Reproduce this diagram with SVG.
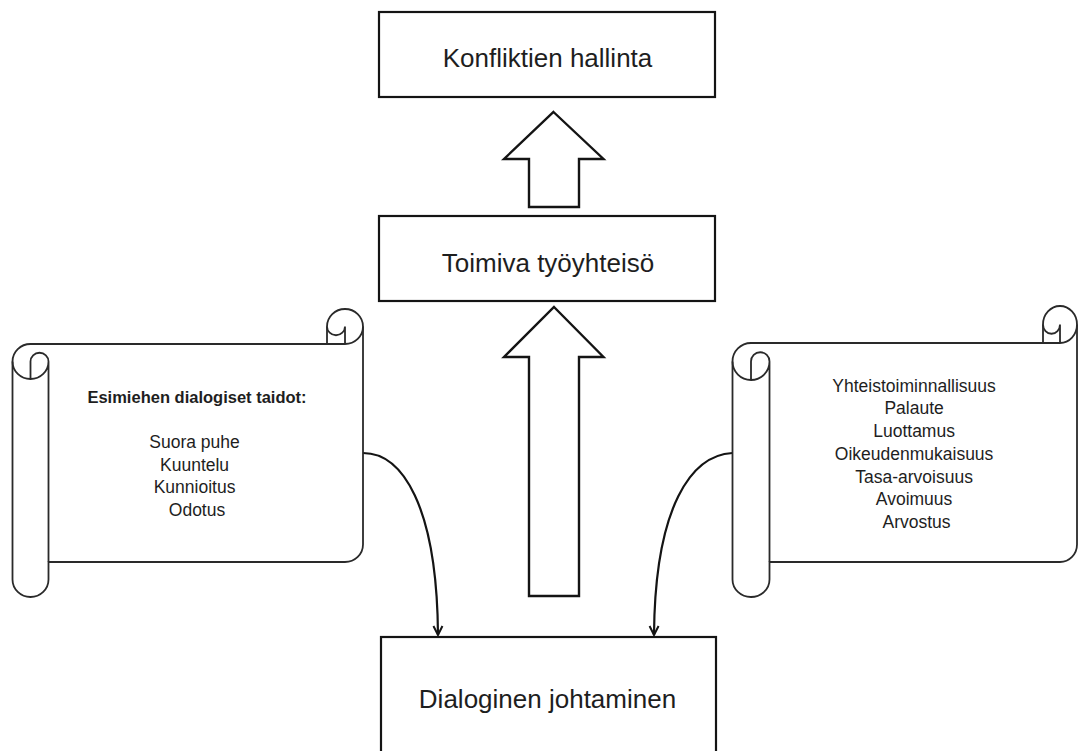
<svg xmlns="http://www.w3.org/2000/svg" width="1078" height="751" viewBox="0 0 1078 751">
  <style>
    .box { fill: #ffffff; stroke: #141414; stroke-width: 2.2; }
    .scroll { fill: #ffffff; stroke: #2a2a2a; stroke-width: 1.8; stroke-linejoin: round; }
    .detail { fill: none; stroke: #2a2a2a; stroke-width: 1.8; }
    .block { fill: #ffffff; stroke: #141414; stroke-width: 2.4; stroke-linejoin: miter; }
    .curve { fill: none; stroke: #141414; stroke-width: 2.2; }
    .big { font-family: "Liberation Sans", Arial, sans-serif; font-size: 26px; fill: #1e1e1e; text-anchor: middle; }
    .small { font-family: "Liberation Sans", Arial, sans-serif; font-size: 17.5px; fill: #1e1e1e; text-anchor: middle; }
    .bold { font-weight: bold; font-size: 16.5px; }
  </style>
  <defs>
    <marker id="open" viewBox="0 0 12 12" refX="10" refY="6" markerWidth="12" markerHeight="12" markerUnits="userSpaceOnUse" orient="auto">
      <path d="M 1 1.5 L 10 6 L 1 10.5" fill="none" stroke="#141414" stroke-width="2" stroke-linejoin="miter"/>
    </marker>
  </defs>
  <rect x="0" y="0" width="1078" height="751" fill="#ffffff"/>

  <g id="connectors">
    <path class="block" d="M 553.5 112 L 603.5 159 L 579 159 L 579 207 L 529 207 L 529 159 L 504 159 Z"/>
    <path class="block" d="M 554 307 L 603.5 357 L 579 357 L 579 596 L 529 596 L 529 357 L 504 357 Z"/>
    <path class="curve" d="M 363 453 C 402 453 437 505 438 635" marker-end="url(#open)"/>
    <path class="curve" d="M 732.5 453 C 692 455 655 505 654 635" marker-end="url(#open)"/>
  </g>

  <g id="node-konfliktien-hallinta">
    <rect class="box" x="379" y="12" width="336" height="85"/>
    <text class="big" x="547.5" y="66.5">Konfliktien hallinta</text>
  </g>

  <g id="node-toimiva-tyoyhteiso">
    <rect class="box" x="379" y="216" width="336" height="85"/>
    <text class="big" x="548" y="271.5">Toimiva työyhteisö</text>
  </g>

  <g id="node-dialoginen-johtaminen">
    <rect class="box" x="381" y="637" width="335" height="130"/>
    <text class="big" x="547.5" y="708">Dialoginen johtaminen</text>
  </g>

  <g id="node-esimiehen-taidot">
    <path class="scroll" d="M 12.5 361.5 A 18 17.5 0 0 1 30.5 344 L 327 344 L 327 326.5 A 18 17.5 0 0 1 363 326.5 L 363 544.5 A 18 17.5 0 0 1 345 562 L 48.5 562 L 48.5 579.5 A 18 17.5 0 0 1 12.5 579.5 Z"/>
    <path class="detail" d="M 327 344 L 345 344 A 18 17.5 0 0 0 363 326.5 M 345 344 L 345 326.5 A 9 8.75 0 0 1 327 326.5 M 30.5 379 L 30.5 361.5 A 9 8.75 0 0 1 48.5 361.5 A 18 17.5 0 0 1 12.5 361.5 M 48.5 361.5 L 48.5 562"/>
    <text class="small bold" x="197" y="403">Esimiehen dialogiset taidot:</text>
    <text class="small" x="197" y="448">
      <tspan x="197">Suora puhe</tspan>
      <tspan x="197" dy="22.7">Kuuntelu</tspan>
      <tspan x="197" dy="22.7">Kunnioitus</tspan>
      <tspan x="197" dy="22.7">Odotus</tspan>
    </text>
  </g>

  <g id="node-arvot">
    <path class="scroll" d="M 732.5 361.5 A 18.5 18.5 0 0 1 751 343 L 1043 343 L 1043 324.5 A 17 18.5 0 0 1 1077 324.5 L 1077 544.5 A 17 17.5 0 0 1 1060 562 L 769.5 562 L 769.5 579.5 A 18.5 17.5 0 0 1 732.5 579.5 Z"/>
    <path class="detail" d="M 1043 343 L 1060 343 A 17 18.5 0 0 0 1077 324.5 M 1060 343 L 1060 324.5 A 8.5 9.25 0 0 1 1043 324.5 M 751 380 L 751 361.5 A 9.25 9.25 0 0 1 769.5 361.5 A 18.5 18.5 0 0 1 732.5 361.5 M 769.5 361.5 L 769.5 562"/>
    <text class="small" x="916.5" y="391.7">
      <tspan x="916.5">Yhteistoiminnallisuus</tspan>
      <tspan x="916.5" dy="22.7">Palaute</tspan>
      <tspan x="916.5" dy="22.7">Luottamus</tspan>
      <tspan x="916.5" dy="22.7">Oikeudenmukaisuus</tspan>
      <tspan x="916.5" dy="22.7">Tasa-arvoisuus</tspan>
      <tspan x="916.5" dy="22.7">Avoimuus</tspan>
      <tspan x="916.5" dy="22.7">Arvostus</tspan>
    </text>
  </g>
</svg>
